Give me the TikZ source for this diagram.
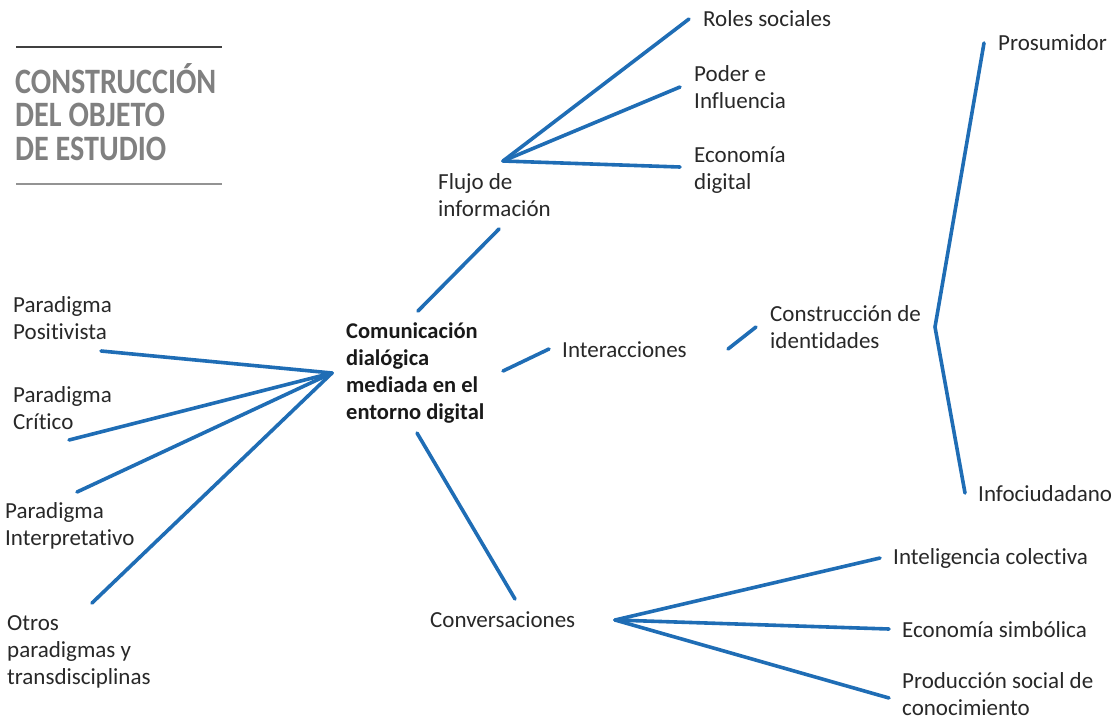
\documentclass[tikz,border=0pt]{standalone}
\usepackage{fontspec}
\usepackage{graphicx}
\setmainfont{Carlito}[Ligatures={NoCommon}]
\definecolor{linkblue}{RGB}{31,109,181}
\definecolor{txt}{RGB}{40,40,40}
\definecolor{hdrgray}{RGB}{128,128,128}
\newcommand{\hdrline}[1]{\scalebox{0.845}[1]{#1}}
% note: for multi-line nodes the base anchor is the baseline of the last line
\tikzset{
  lbl/.style={anchor=base west, inner sep=0pt, align=left, text=txt,
    font=\fontsize{23}{27}\selectfont},
  ctr/.style={lbl, font=\fontsize{22.5}{27}\selectfont\bfseries, text=black!90},
  hdr/.style={anchor=base west, inner sep=0pt, align=left, text=hdrgray,
    font=\fontsize{35.7}{33.5}\selectfont\bfseries},
  link/.style={draw=linkblue, line width=3.6pt, line cap=round, line join=round},
}
\begin{document}
\begin{tikzpicture}[x=1pt,y=-1pt]
\useasboundingbox (0,0) rectangle (1115,721);
% header
\draw[line width=1.4pt, draw=black!75] (16,47) -- (222,47);
\draw[line width=2.6pt, draw=hdrgray!85] (16,184) -- (222,184);
\node[hdr] (title) at (15,160) {\hdrline{CONSTRUCCIÓN}\\\hdrline{DEL OBJETO}\\\hdrline{DE ESTUDIO}};

% text nodes (position = baseline of last line)
\node[ctr] (center) at (346,419) {Comunicación\\dialógica\\mediada en el\\entorno digital};
\node[lbl] (flujo) at (438,216) {Flujo de\\información};
\node[lbl] (roles) at (703,26) {Roles sociales};
\node[lbl] (poder) at (694,108) {Poder e\\Influencia};
\node[lbl] (econd) at (694,189) {Economía\\digital};
\node[lbl] (inter) at (562,357) {Interacciones};
\node[lbl] (ident) at (770,348) {Construcción de\\identidades};
\node[lbl] (prosu) at (998,50) {Prosumidor};
\node[lbl] (infoc) at (978,501) {Infociudadano};
\node[lbl] (posit) at (13,339) {Paradigma\\Positivista};
\node[lbl] (criti) at (13,429) {Paradigma\\Crítico};
\node[lbl] (inter2) at (5,545) {Paradigma\\Interpretativo};
\node[lbl] (otros) at (7,684) {Otros\\paradigmas y\\transdisciplinas};
\node[lbl] (conv) at (430,627) {Conversaciones};
\node[lbl] (intel) at (893,564) {Inteligencia colectiva};
\node[lbl] (econs) at (902,637) {Economía simbólica};
\node[lbl] (prod) at (902,715) {Producción social de\\conocimiento};

% connector end points
\coordinate (cUp) at (418,311);
\coordinate (fLow) at (499,229);
\coordinate (fHub) at (503,161);
\coordinate (rEnd) at (689,19);
\coordinate (pEnd) at (680,87);
\coordinate (eEnd) at (680,167);
\coordinate (cRight) at (503,371);
\coordinate (iLeft) at (549,349);
\coordinate (iRight) at (728,349);
\coordinate (idLeft) at (756,327);
\coordinate (bTop) at (984,43);
\coordinate (bMid) at (935,327);
\coordinate (bBot) at (965,493);
\coordinate (cDown) at (417,433);
\coordinate (convUp) at (515,599);
\coordinate (convHub) at (615,620);
\coordinate (intEnd) at (880,558);
\coordinate (ecsEnd) at (889,629);
\coordinate (proEnd) at (889,698);
\coordinate (lHub) at (332,373);
\coordinate (posEnd) at (101,351);
\coordinate (criEnd) at (69,440);
\coordinate (intpEnd) at (77,492);
\coordinate (otrEnd) at (92,603);

% connectors
\draw[link] (cUp) -- (fLow);
\draw[link] (fHub) -- (rEnd);
\draw[link] (fHub) -- (pEnd);
\draw[link] (fHub) -- (eEnd);
\draw[link] (cRight) -- (iLeft);
\draw[link] (iRight) -- (idLeft);
\draw[link] (bTop) -- (bMid) -- (bBot);
\draw[link] (cDown) -- (convUp);
\draw[link] (convHub) -- (intEnd);
\draw[link] (convHub) -- (ecsEnd);
\draw[link] (convHub) -- (proEnd);
\draw[link] (lHub) -- (posEnd);
\draw[link] (lHub) -- (criEnd);
\draw[link] (lHub) -- (intpEnd);
\draw[link] (lHub) -- (otrEnd);
\end{tikzpicture}
\end{document}
